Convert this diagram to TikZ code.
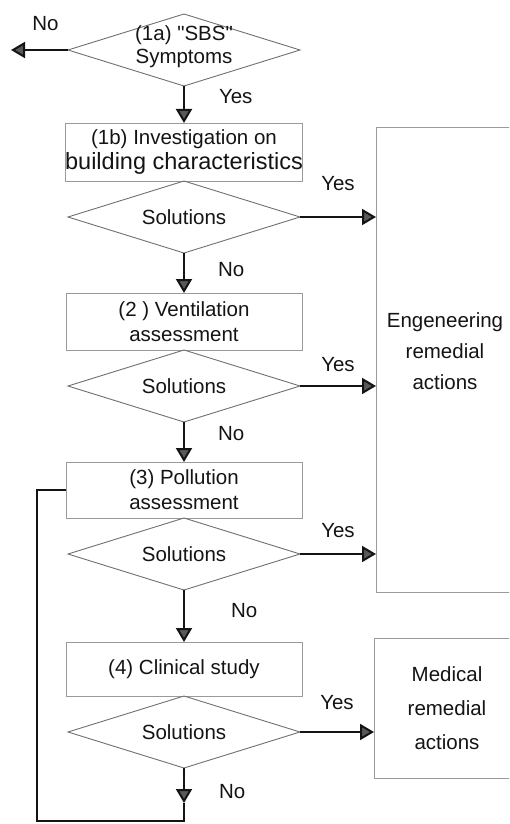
\documentclass[tikz,border=0pt]{standalone}
\usepackage{fontspec}
\setmainfont{Liberation Sans}[Ligatures=TeXOff]
\usepackage{tikz}
\usetikzlibrary{shapes.geometric,positioning,arrows.meta}
\definecolor{boxgrey}{HTML}{9A9A9A}
\definecolor{diagrey}{HTML}{707070}
\definecolor{ink}{HTML}{141414}
\tikzset{decision/.style={diamond,draw=diagrey,line width=0.9pt,aspect=3,minimum width=232pt,minimum height=72pt,inner sep=0pt,outer sep=0pt,text=ink,font=\fontsize{20.5}{24}\selectfont}}
\tikzset{stepbox/.style={rectangle,draw=boxgrey,line width=0.9pt,minimum width=236pt,minimum height=56pt,inner sep=0pt,outer sep=0pt,align=center,text=ink,font=\fontsize{20.5}{25}\selectfont}}
\tikzset{resbox/.style={rectangle,draw=boxgrey,line width=0.9pt,inner sep=0pt,outer sep=0pt,align=center,text=ink,anchor=north west}}
\tikzset{flow/.style={draw=ink,line width=2pt,-{Triangle[length=14pt,width=16pt,fill=black!65]}}}
\tikzset{lbl/.style={inner sep=0pt,text=ink,font=\fontsize{20.5}{24}\selectfont}}

\begin{document}
\begin{tikzpicture}[x=1pt,y=-1pt]
        \useasboundingbox (0,0) rectangle (509,824);
        \clip (0,0) rectangle (509,824);

        \node[decision,label={[align=center,text=ink,font=\fontsize{20.5}{23}\selectfont,yshift=3.5pt]center:(1a) "SBS"\\Symptoms}] (sbs) at (184,50) {};
        \coordinate[left=57pt of sbs.west] (sbs_no);

        \node[stepbox,minimum height=58pt,below=37pt of sbs] (build) {(1b) Investigation on\\{\fontsize{23.5}{25}\selectfont building characteristics}};
        \node[decision,below=0pt of build] (sol_build) {Solutions};

        \node[stepbox,minimum height=57pt,below=40pt of sol_build] (vent) {(2 ) Ventilation\\assessment};
        \node[decision,below=0pt of vent] (sol_vent) {Solutions};

        \node[stepbox,align=left,below=40pt of sol_vent] (poll) {(3) Pollution\\assessment};
        \node[decision,below=0pt of poll] (sol_poll) {Solutions};

        \node[stepbox,minimum height=54pt,below=52pt of sol_poll] (clin) {(4) Clinical study};
        \node[decision,below=0pt of clin] (sol_clin) {Solutions};
        \coordinate[below=35pt of sol_clin.south] (clin_no);
        \coordinate[left=29pt of poll.west] (poll_back);

        \node[resbox,minimum width=138pt,minimum height=465pt,label={[align=center,text=ink,font=\fontsize{20.5}{31}\selectfont,yshift=8.5pt]center:Engeneering\\remedial\\actions}] (eng) at (376,127) {};
        \node[resbox,minimum width=146pt,minimum height=140pt,font=\fontsize{20.5}{34}\selectfont] (med) at (374,638) {Medical\\remedial\\actions};

        \draw[flow] (sbs.west) -- node[lbl,above=18pt,xshift=6pt] {No} (sbs_no);
        \draw[flow] (sbs) -- node[lbl,right=34pt,yshift=8pt] {Yes} (build);

        \draw[flow] (sol_build.east) -- node[lbl,above=25pt] {Yes} (sol_build.east -| eng.west);
        \draw[flow] (sol_build) -- node[lbl,right=33pt,yshift=3pt] {No} (vent);

        \draw[flow] (sol_vent.east) -- node[lbl,above=13pt] {Yes} (sol_vent.east -| eng.west);
        \draw[flow] (sol_vent) -- node[lbl,right=33pt,yshift=8pt] {No} (poll);

        \draw[flow] (sol_poll.east) -- node[lbl,above=15pt] {Yes} (sol_poll.east -| eng.west);
        \draw[flow] (sol_poll) -- node[lbl,right=46pt,yshift=5.5pt] {No} (clin);

        \draw[flow] (sol_clin.east) -- node[lbl,above=21pt] {Yes} (sol_clin.east -| med.west);
        \draw[flow] (sol_clin) -- node[lbl,right=34pt,yshift=-6pt] {No} (clin_no);
        \draw[draw=ink,line width=2pt] (clin_no) -- ++(0,18) -| (poll_back) -- (poll.west);
    \end{tikzpicture}
\end{document}
